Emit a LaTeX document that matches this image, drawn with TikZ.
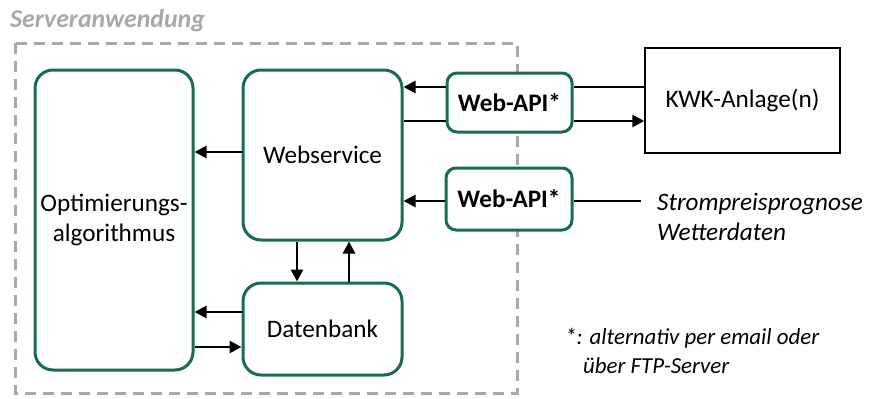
\documentclass[tikz,border=0pt]{standalone}
\usepackage{fontspec}
\setmainfont{Carlito}
\usetikzlibrary{arrows.meta}
\definecolor{kgreen}{RGB}{24,108,80}
\definecolor{dgray}{RGB}{168,168,168}
\begin{document}
\begin{tikzpicture}[x=1pt,y=-1pt,
  gbox/.style={draw=kgreen,line width=3pt,rounded corners=18pt,fill=white,align=center,inner sep=0pt,font=\fontsize{25.2}{30}\selectfont},
  apibox/.style={draw=kgreen,line width=3pt,rounded corners=10pt,fill=white,inner sep=0pt,font=\fontsize{25.2}{30}\selectfont\bfseries},
  arr/.style={line width=2.7pt,-{Triangle[length=12pt,width=12pt]}},
  ln/.style={line width=2.7pt},
  txt/.style={font=\fontsize{25.2}{30}\selectfont,inner sep=0pt}]
\useasboundingbox (0,0) rectangle (871,399);
\node[anchor=base west,text=dgray,inner sep=0pt,font=\fontsize{25.8}{30}\selectfont\bfseries\itshape] (title) at (10,27) {Serveranwendung};
\draw[dgray,line width=3pt,dash pattern=on 11pt off 7pt] (15,43) rectangle (517,393);
\node[gbox,minimum width=158pt,minimum height=300pt] (opt) at (114,220) {Optimierungs-\\algorithmus};
\node[gbox,minimum width=159pt,minimum height=170pt] (ws) at (322.5,155) {Webservice};
\node[gbox,minimum width=159pt,minimum height=92pt] (db) at (322.5,329) {Datenbank};
\node[apibox,minimum width=125pt,minimum height=59pt] (api1) at (509.5,102.5) {Web-API*};
\node[apibox,minimum width=126pt,minimum height=62pt] (api2) at (509,199) {Web-API*};
\node[draw=black,line width=1.5pt,minimum width=195pt,minimum height=105pt,inner sep=0pt,font=\fontsize{25.2}{30}\selectfont] (kwk) at (742.5,100.5) {KWK-Anlage(n)};
\coordinate (src) at (641,201);
\node[txt,anchor=base west,font=\fontsize{25.2}{30}\selectfont\itshape] (sp) at (657,210) {Strompreisprognose};
\node[txt,anchor=base west,font=\fontsize{25.2}{30}\selectfont\itshape] (wd) at (657,240) {Wetterdaten};
\node[txt,anchor=base west,font=\fontsize{22.9}{26}\selectfont\itshape] (fn1) at (565,344) {*: alternativ per email oder};
\node[txt,anchor=base west,font=\fontsize{22.9}{26}\selectfont\itshape] (fn2) at (583,373) {über FTP-Server};
% connectors
\draw[ln] (kwk.west |- 0,87) -- (api1.east |- 0,87);
\draw[arr] (api1.west |- 0,87) -- (ws.east |- 0,87);
\draw[ln] (ws.east |- 0,121) -- (api1.west |- 0,121);
\draw[arr] (api1.east |- 0,121) -- (kwk.west |- 0,121);
\draw[ln] (src) -- (api2.east |- src);
\draw[arr] (api2.west |- src) -- (ws.east |- src);
\draw[arr] (ws.west |- 0,152) -- (opt.east |- 0,152);
\draw[arr] (ws.south -| 297,0) -- (db.north -| 297,0);
\draw[arr] (db.north -| 349,0) -- (ws.south -| 349,0);
\draw[arr] (db.west |- 0,312) -- (opt.east |- 0,312);
\draw[arr] (opt.east |- 0,347) -- (db.west |- 0,347);
\end{tikzpicture}
\end{document}
